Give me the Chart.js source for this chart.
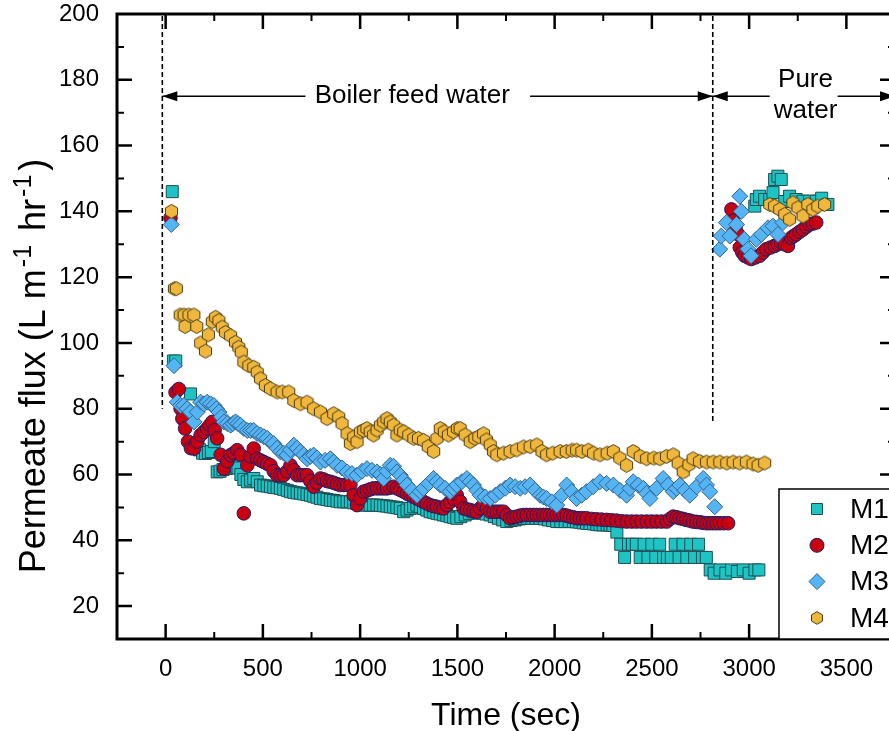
<!DOCTYPE html>
<html>
<head>
<meta charset="utf-8">
<title>Permeate flux</title>
<script src="https://cdn.jsdelivr.net/npm/chart.js@4.4.1/dist/chart.umd.min.js"></script>
<style>
  html, body { margin: 0; padding: 0; background: #fff; overflow: hidden; }
  #wrap { width: 910px; height: 731px; }
</style>
</head>
<body>
<div id="wrap"><canvas id="flux" width="910" height="731"></canvas></div>
<script>
// ---- data: time (sec) / permeate flux (L m-1 hr-1) per membrane ----
const seriesNames = ['M1', 'M2', 'M3', 'M4'];

const m1Time = [
  34, 40, 52, 128, 146, 160, 175, 190, 205, 220,
  235, 250, 265, 280, 295, 310, 325, 342, 358, 372,
  387, 402, 420, 437, 453, 471, 488, 505, 522, 539,
  556, 573, 590, 607, 625, 642, 659, 676, 693, 710,
  727, 744, 761, 778, 796, 813, 830, 847, 864, 881,
  898, 916, 933, 950, 967, 984, 1001, 1018, 1035, 1052,
  1069, 1087, 1104, 1121, 1138, 1155, 1172, 1189, 1206, 1224,
  1241, 1258, 1275, 1292, 1309, 1326, 1343, 1360, 1378, 1395,
  1412, 1429, 1446, 1463, 1480, 1497, 1518, 1540, 1561, 1583,
  1604, 1626, 1647, 1669, 1690, 1711, 1733, 1754, 1776, 1797,
  1818, 1840, 1861, 1883, 1904, 1925, 1947, 1968, 1990, 2011,
  2032, 2054, 2075, 2096, 2113, 2130, 2147, 2164, 2182, 2200,
  2217, 2233, 2250, 2270, 2285, 2300, 2320, 2340, 2360, 2380,
  2400, 2420, 2440, 2460, 2480, 2500, 2520, 2540, 2560, 2580,
  2600, 2620, 2640, 2660, 2680, 2700, 2720, 2740, 2760, 2780,
  2800, 2820, 2850, 2880, 2910, 2940, 2970, 3000, 3030, 3050,
  3029, 3037, 3054, 3080, 3106, 3123, 3131, 3148, 3165, 3183,
  3208, 3242, 3277, 3311, 3345, 3373, 3405
];
const m1Flux = [
  146, 94.5, 94.5, 84.5, 69.4, 68, 67.5, 66.5, 66.4, 66.7,
  67, 70, 60.8, 61, 61.5, 61.8, 62, 62.3, 62.6, 62,
  60, 58.5, 57.8, 58.3, 58.8, 57.8, 56.8, 56.6, 56.5, 56.3,
  56.1, 56, 55.8, 55.5, 55.2, 54.8, 54.6, 54.4, 54.3, 54.1,
  53.9, 53.7, 53.4, 53.1, 52.7, 52.6, 52.4, 52.2, 52.1, 51.9,
  51.7, 51.7, 51.7, 51.7, 51.4, 51.2, 51, 50.7, 50.7, 50.7,
  50.7, 50.7, 50.6, 50.5, 50.4, 50.2, 50.1, 49.9, 49.7, 48.7,
  49.2, 49.7, 50.2, 50.7, 50.2, 49.7, 49.2, 48.7, 48.5, 48.2,
  48, 47.7, 47.5, 47.2, 47, 46.7, 47.2, 47.7, 48.2, 48.7,
  48.5, 48.2, 48, 47.7, 47.2, 46.7, 46.2, 45.7, 46, 46.2,
  46.5, 46.7, 46.7, 46.7, 46.7, 46.7, 46.5, 46.2, 46, 45.7,
  45.7, 45.7, 45.7, 45.7, 45.6, 45.5, 45.3, 45.2, 45.1, 45,
  44.8, 44.7, 44.7, 44.7, 44.6, 44.5, 42.5, 38.8, 34.8, 38.8,
  38.8, 38.8, 34.8, 38.8, 34.8, 38.8, 34.8, 38.8, 34.8, 34.8,
  34.8, 38.8, 34.8, 38.8, 34.8, 38.8, 34.8, 38.8, 34.8, 34.8,
  31, 30, 31, 30, 31, 30.5, 31, 30, 31, 31,
  141.6, 143.6, 144.6, 143.6, 143.6, 145.7, 149.7, 150.7, 149.7, 143,
  144.6, 143.6, 143.1, 143.1, 143.1, 144, 142.1
];

const m2Time = [
  25, 51, 68, 77, 86, 100, 115, 130, 146, 163,
  180, 197, 214, 227, 240, 252, 265, 283, 300, 317,
  334, 351, 368, 385, 402, 420, 437, 453, 471, 488,
  505, 522, 539, 556, 573, 590, 607, 625, 642, 659,
  676, 693, 710, 727, 744, 761, 778, 796, 813, 830,
  847, 864, 881, 898, 916, 933, 950, 967, 984, 1001,
  1018, 1035, 1052, 1069, 1087, 1104, 1121, 1138, 1155, 1172,
  1189, 1206, 1224, 1241, 1258, 1275, 1292, 1309, 1326, 1343,
  1360, 1378, 1395, 1412, 1429, 1446, 1463, 1480, 1497, 1515,
  1532, 1549, 1566, 1583, 1600, 1617, 1634, 1652, 1669, 1686,
  1703, 1720, 1737, 1754, 1771, 1788, 1805, 1822, 1840, 1857,
  1874, 1891, 1908, 1925, 1942, 1959, 1976, 1994, 2011, 2028,
  2045, 2062, 2079, 2096, 2113, 2130, 2147, 2164, 2190, 2215,
  2241, 2267, 2292, 2318, 2344, 2370, 2396, 2421, 2447, 2473,
  2498, 2524, 2550, 2576, 2593, 2610, 2627, 2644, 2661, 2678,
  2695, 2712, 2730, 2747, 2764, 2781, 2798, 2815, 2833, 2850,
  2870, 2892,
  2909, 2918, 2930, 2944, 2952, 2965, 2977, 2994, 3011, 3032,
  3054, 3071, 3088, 3110, 3131, 3148, 3165, 3183, 3200, 3217,
  3230, 3242, 3260, 3277, 3294, 3311, 3328, 3345
];
const m2Flux = [
  138, 85, 86, 80, 77, 74, 70, 68, 67.9, 70,
  72, 73, 74, 75, 76, 73.5, 71, 66, 61.8, 64,
  65.9, 66.5, 67.4, 66, 48.2, 62.8, 65.5, 67.9, 64.8, 64.3,
  63.8, 63.3, 62.8, 61, 59.8, 59.8, 59.8, 61, 62.8, 61.3,
  59.8, 59.8, 59.8, 59.8, 58, 56.3, 57.5, 58.8, 58.5, 58,
  57.8, 57.5, 57.1, 56.8, 56.8, 56.8, 56.8, 53.7, 50.7, 52.7,
  54.8, 55.1, 55.5, 55.8, 55.8, 55.8, 55.8, 55.8, 56, 56.3,
  55.8, 55.3, 54.8, 54.2, 53.7, 53.2, 52.7, 52.2, 51.7, 51.2,
  50.7, 50.4, 50.2, 49.9, 49.7, 50.7, 51.7, 52.7, 53.7, 51.7,
  49.7, 49.4, 49.2, 48.9, 48.7, 49.7, 50.7, 49.7, 48.7, 48.7,
  48.7, 48.7, 48.7, 47.7, 46.7, 47, 47.2, 47.5, 47.7, 47.7,
  47.7, 47.7, 47.7, 47.7, 47.7, 47.7, 47.7, 47.7, 47.7, 47.7,
  47.7, 47.5, 47.2, 47, 46.7, 46.7, 46.7, 46.7, 46.5, 46.4,
  46.3, 46.2, 46.1, 46, 45.8, 45.7, 45.7, 45.7, 45.7, 45.7,
  45.7, 45.7, 45.7, 45.7, 46.5, 47.2, 47, 46.7, 46.5, 46.2,
  46, 45.7, 45.6, 45.5, 45.3, 45.2, 45.2, 45.2, 45.2, 45.2,
  45.2, 45.2,
  140.6, 137.1, 135, 133, 129, 127.5, 126.5, 126, 125.5, 126,
  126.5, 127.5, 128.5, 129, 129.5, 130, 130.5, 130, 129.5, 132,
  132.5, 133, 133.8, 134.5, 135.3, 136, 136.3, 136.6
];

const m3Time = [
  29, 43, 60, 77, 94, 111, 128, 146, 163, 180,
  197, 214, 231, 248, 261, 274, 287, 300, 317, 334,
  346, 359, 372, 385, 402, 420, 437, 453, 470, 488,
  505, 522, 539, 556, 573, 590, 607, 625, 642, 659,
  676, 693, 710, 727, 744, 761, 778, 796, 820, 847,
  864, 881, 907, 933, 958, 984, 1010, 1035, 1061, 1087,
  1104, 1121, 1138, 1155, 1172, 1189, 1206, 1224, 1241, 1266,
  1292, 1309, 1326, 1352, 1378, 1395, 1412, 1437, 1463, 1480,
  1497, 1523, 1549, 1566, 1583, 1600, 1617, 1643, 1669, 1695,
  1720, 1746, 1771, 1797, 1823, 1848, 1874, 1900, 1925, 1942,
  1959, 1985, 2011, 2036, 2062, 2088, 2113, 2139, 2164, 2198,
  2233, 2267, 2302, 2336, 2370, 2387, 2404, 2430, 2456, 2473,
  2490, 2524, 2558, 2584, 2610, 2627, 2644, 2670, 2695, 2730,
  2764, 2781, 2798, 2823,
  2849, 2857, 2883, 2901, 2935, 2952, 2960, 2975, 2994, 3010,
  3037, 3063, 3097, 3123, 3148, 3174
];
const m3Flux = [
  136, 93.1, 82, 81, 81, 80, 79, 76, 79, 82,
  81.5, 82, 81.5, 81, 80, 79, 77.5, 76, 75.5, 75,
  75.5, 76, 75.5, 75, 74, 73.4, 73.4, 73.4, 72.5, 72,
  71.5, 71, 70, 69.4, 68, 66.9, 66.5, 65.9, 67.5, 68.9,
  68, 66.9, 66, 64.8, 65.5, 65.9, 65, 63.8, 64.3, 64.8,
  63.8, 62.8, 62, 60.8, 60.3, 59.8, 61, 61.8, 61.3, 60.8,
  60, 58.8, 61, 62.8, 62.5, 60.8, 59.8, 58.3, 56.8, 55.2,
  53.7, 54.8, 55.8, 57.3, 58.8, 57.8, 56.8, 55.8, 54.8, 55.8,
  56.8, 57.8, 58.8, 57.8, 56.8, 55.2, 53.7, 53.2, 52.7, 53.7,
  54.8, 55.8, 56.8, 56.3, 55.8, 56.3, 56.8, 55.2, 53.7, 53.2,
  52.7, 51.7, 50.7, 53.7, 56.8, 54.8, 52.7, 53.7, 54.8, 56.3,
  57.8, 57.3, 56.8, 55.2, 53.7, 55.8, 57.8, 56.8, 55.8, 54.3,
  52.7, 55.8, 58.8, 56.8, 54.8, 55.8, 56.8, 55.2, 53.7, 56.3,
  58.8, 56.8, 54.8, 50.2,
  128.5, 132.5, 136.6, 132.5, 136, 144.6, 140, 131.5, 128.5, 126.5,
  131.5, 133, 135, 135.5, 133, 136.6
];

const m4Time = [
  30, 45, 55, 75, 95, 100, 120, 145, 160, 180,
  205, 220, 240, 257, 274, 291, 308, 334, 359, 376,
  389, 402, 428, 453, 471, 488, 513, 539, 573, 599,
  633, 659, 693, 727, 761, 796, 830, 864, 890, 907,
  933, 950, 967, 984, 1001, 1018, 1035, 1052, 1069, 1087,
  1104, 1121, 1138, 1155, 1172, 1189, 1206, 1224, 1250, 1276,
  1300, 1326, 1350, 1378, 1395, 1412, 1433, 1454, 1480, 1500,
  1514, 1540, 1566, 1590, 1610, 1634, 1650, 1669, 1686, 1703,
  1737, 1771, 1805, 1840, 1874, 1908, 1935, 1959, 1990, 2028,
  2060, 2090, 2113, 2140, 2173, 2200, 2233, 2270, 2302, 2335,
  2370, 2404, 2440, 2473, 2510, 2541, 2575, 2610, 2635, 2661,
  2690, 2712, 2745, 2781, 2815, 2849, 2885, 2918, 2950, 2986,
  3020, 3046, 3080,
  3106, 3131, 3157, 3183, 3208, 3225, 3251, 3277, 3302, 3328,
  3353, 3388
];
const m4Flux = [
  140, 116.5, 116.5, 108.5, 108.5, 105, 108.5, 108.5, 105, 100,
  97.5, 102.5, 106.5, 107.8, 106.8, 104.8, 103.2, 102.2, 100.2, 98.7,
  97.2, 94.2, 93.1, 92.6, 91.1, 89.1, 87.1, 86.1, 85.1, 85.1,
  85.1, 82.5, 81.5, 82, 80, 79, 77, 78.5, 77.5, 75.5,
  72.4, 69.4, 71.4, 70, 73, 73.4, 74, 73, 72, 73.5,
  75, 76, 77, 76, 75, 72, 73.5, 73, 72, 71,
  71, 70.4, 68.5, 67, 71, 74, 73, 72, 73, 74,
  74, 72, 70, 71, 71.5, 72.4, 70.5, 69, 67, 66,
  66.5, 67, 67.5, 68.4, 68.5, 69, 67, 66, 66.5, 67,
  67, 67.4, 67.4, 67, 67.4, 66.5, 66, 66.5, 67, 65,
  62.8, 67, 65.5, 64.8, 65, 64.8, 65.5, 66, 63.5, 60.8,
  63, 64.8, 64, 63.8, 63.8, 63.8, 63.5, 63.8, 63.5, 63.8,
  63.2, 62.8, 63.5,
  142.1, 141.6, 140.6, 139.1, 137.6, 142.6, 141.1, 138.6, 142.1, 140.6,
  141.6, 142.1
];

// axis ticks
const X_TICKS = [0, 500, 1000, 1500, 2000, 2500, 3000, 3500];
const Y_TICKS = [20, 40, 60, 80, 100, 120, 140, 160, 180, 200];

const FONT = "'Liberation Sans', Arial, sans-serif";
Chart.defaults.font.family = FONT;
Chart.defaults.color = '#000';

const toPoints = (t, v) => t.map((x, i) => ({ x, y: v[i] }));

// hexagon marker (pointy top) for M4
function hexSprite(fill, stroke, r) {
  const size = Math.ceil(r * 2 + 3);
  const c = document.createElement('canvas');
  c.width = size;
  c.height = size;
  const g = c.getContext('2d');
  g.beginPath();
  for (let i = 0; i < 6; i++) {
    const a = Math.PI / 2 + i * Math.PI / 3;
    const px = size / 2 + r * Math.cos(a);
    const py = size / 2 + r * Math.sin(a);
    if (i === 0) g.moveTo(px, py); else g.lineTo(px, py);
  }
  g.closePath();
  g.fillStyle = fill;
  g.fill();
  g.lineWidth = 1;
  g.strokeStyle = stroke;
  g.stroke();
  return c;
}

const STYLES = [
  { fill: '#1ec4c4', edge: '#1d4f55', shape: 'rect', r: 8.5 },
  { fill: '#c8000f', edge: '#1b1f6e', shape: 'circle', r: 6.8 },
  { fill: '#55b5f4', edge: '#36648f', shape: 'rectRot', r: 8 },
  { fill: '#efb73c', edge: '#4d3c12', shape: 'hex', r: 7 }
];
const hexMark = hexSprite(STYLES[3].fill, STYLES[3].edge, STYLES[3].r);
const hexLegend = hexSprite(STYLES[3].fill, STYLES[3].edge, 6.3);

const series = [[m1Time, m1Flux], [m2Time, m2Flux], [m3Time, m3Flux], [m4Time, m4Flux]];

const datasets = series.map(([t, v], i) => {
  const s = STYLES[i];
  return {
    label: seriesNames[i],
    data: toPoints(t, v),
    pointStyle: s.shape === 'hex' ? hexMark : s.shape,
    pointRadius: s.r,
    backgroundColor: s.fill,
    borderColor: s.edge,
    borderWidth: 1,
    showLine: false,
    order: 4 - i
  };
});

function arrowHead(ctx, tipX, yy, dir) {
  // dir = 1 points right, -1 points left
  ctx.beginPath();
  ctx.moveTo(tipX, yy);
  ctx.lineTo(tipX - dir * 15, yy - 5);
  ctx.lineTo(tipX - dir * 15, yy + 5);
  ctx.closePath();
  ctx.fill();
}

function legendMark(ctx, i, cx, cy) {
  const s = STYLES[i];
  ctx.fillStyle = s.fill;
  ctx.strokeStyle = s.edge;
  ctx.lineWidth = 1;
  ctx.beginPath();
  if (s.shape === 'rect') {
    ctx.rect(cx - 5.5, cy - 5.5, 11, 11);
  } else if (s.shape === 'circle') {
    ctx.arc(cx, cy, 7, 0, Math.PI * 2);
  } else if (s.shape === 'rectRot') {
    ctx.moveTo(cx, cy - 8);
    ctx.lineTo(cx + 8, cy);
    ctx.lineTo(cx, cy + 8);
    ctx.lineTo(cx - 8, cy);
    ctx.closePath();
  } else {
    ctx.drawImage(hexLegend, cx - hexLegend.width / 2, cy - hexLegend.height / 2);
    return;
  }
  ctx.fill();
  ctx.stroke();
}

const framePlugin = {
  id: 'frame',
  afterDraw(chart) {
    const { ctx, chartArea: a, scales: { x, y } } = chart;
    ctx.save();
    ctx.strokeStyle = '#000';
    ctx.fillStyle = '#000';

    // inward tick marks on all four sides
    const xMinor = X_TICKS.map(v => v + 250);
    const yMinor = Y_TICKS.map(v => v - 10).filter(v => v > 10);
    const tickSet = (vals, len, w) => {
      ctx.lineWidth = w;
      ctx.beginPath();
      vals.forEach(v => {
        const px = x.getPixelForValue(v);
        if (px <= a.left || px >= a.right) return;
        ctx.moveTo(px, a.bottom); ctx.lineTo(px, a.bottom - len);
        ctx.moveTo(px, a.top); ctx.lineTo(px, a.top + len);
      });
      ctx.stroke();
    };
    const tickSetY = (vals, len, w) => {
      ctx.lineWidth = w;
      ctx.beginPath();
      vals.forEach(v => {
        const py = y.getPixelForValue(v);
        if (py <= a.top + 1 || py >= a.bottom) return;
        ctx.moveTo(a.left, py); ctx.lineTo(a.left + len, py);
        ctx.moveTo(a.right, py); ctx.lineTo(a.right - len, py);
      });
      ctx.stroke();
    };
    tickSet(X_TICKS, 15, 2.5);
    tickSet(xMinor, 7, 2);
    tickSetY(Y_TICKS, 15, 2.5);
    tickSetY(yMinor, 7, 2);

    ctx.lineWidth = 3;
    ctx.strokeRect(a.left, a.top, a.right - a.left, a.bottom - a.top);

    // phase boundaries
    const xStart = x.getPixelForValue(-17);
    const xSwitch = x.getPixelForValue(2813);
    ctx.lineWidth = 1.6;
    ctx.setLineDash([5, 3]);
    ctx.beginPath();
    ctx.moveTo(xStart, a.top + 2); ctx.lineTo(xStart, y.getPixelForValue(80));
    ctx.moveTo(xSwitch, a.top + 2); ctx.lineTo(xSwitch, y.getPixelForValue(76));
    ctx.stroke();
    ctx.setLineDash([]);

    // phase arrows
    const ya = y.getPixelForValue(175);
    ctx.lineWidth = 1.5;
    ctx.beginPath();
    ctx.moveTo(xStart, ya); ctx.lineTo(x.getPixelForValue(719), ya);
    ctx.moveTo(x.getPixelForValue(1874), ya); ctx.lineTo(xSwitch, ya);
    ctx.moveTo(xSwitch, ya); ctx.lineTo(x.getPixelForValue(3106), ya);
    ctx.moveTo(x.getPixelForValue(3455), ya); ctx.lineTo(a.right, ya);
    ctx.stroke();
    arrowHead(ctx, xStart, ya, -1);
    arrowHead(ctx, xSwitch, ya, 1);
    arrowHead(ctx, xSwitch, ya, -1);
    arrowHead(ctx, a.right, ya, 1);

    ctx.font = '26px ' + FONT;
    ctx.textAlign = 'center';
    ctx.textBaseline = 'middle';
    ctx.fillText('Boiler feed water', x.getPixelForValue(1268), ya);
    ctx.fillText('Pure', x.getPixelForValue(3290), y.getPixelForValue(180));
    ctx.fillText('water', x.getPixelForValue(3290), y.getPixelForValue(170.6));

    // axis titles
    ctx.font = '32px ' + FONT;
    ctx.textBaseline = 'alphabetic';
    ctx.fillText('Time (sec)', (a.left + a.right) / 2, 725);

    const parts = [
      ['Permeate flux (L m', false], ['-1', true], [' hr', false], ['-1', true], [')', false]
    ];
    const mainFont = '36px ' + FONT, supFont = '25px ' + FONT;
    const gap = 6;
    let total = 0;
    parts.forEach(([txt, sup]) => {
      ctx.font = sup ? supFont : mainFont;
      total += ctx.measureText(txt).width + (sup ? gap : 0);
    });
    ctx.save();
    ctx.translate(45, 366);
    ctx.rotate(-Math.PI / 2);
    ctx.textAlign = 'left';
    let cx = -total / 2;
    parts.forEach(([txt, sup]) => {
      ctx.font = sup ? supFont : mainFont;
      ctx.fillText(txt, cx + (sup ? 2 : 0), sup ? -14 : 0);
      cx += ctx.measureText(txt).width + (sup ? gap : 0);
    });
    ctx.restore();

    // legend box, lower right
    const lx = a.right - 116, ly = a.bottom - 150;
    ctx.fillStyle = '#fff';
    ctx.fillRect(lx, ly, a.right - lx, a.bottom - ly);
    ctx.lineWidth = 1.5;
    ctx.strokeStyle = '#000';
    ctx.strokeRect(lx, ly, a.right - lx + 10, a.bottom - ly);
    ctx.font = '28px ' + FONT;
    ctx.textAlign = 'left';
    ctx.textBaseline = 'middle';
    seriesNames.forEach((name, i) => {
      const cy = ly + 20 + i * 36.3;
      legendMark(ctx, i, lx + 38, cy);
      ctx.fillStyle = '#000';
      ctx.fillText(name, lx + 71, cy + 1);
    });
    ctx.restore();
  }
};

new Chart(document.getElementById('flux'), {
  type: 'scatter',
  data: { datasets },
  options: {
    responsive: false,
    animation: false,
    layout: { padding: { top: 14, right: 15, left: 0, bottom: 0 } },
    plugins: { legend: { display: false }, tooltip: { enabled: false } },
    scales: {
      x: {
        type: 'linear',
        min: -250,
        max: 3750,
        afterBuildTicks: s => { s.ticks = X_TICKS.map(v => ({ value: v })); },
        afterFit: s => { s.height = 92; s.paddingLeft = 0; s.paddingRight = 0; },
        grid: { display: false, drawTicks: false },
        border: { display: false },
        ticks: {
          font: { size: 24 },
          padding: 16,
          maxRotation: 0,
          autoSkip: false,
          callback: v => String(v)
        }
      },
      y: {
        min: 10,
        max: 200,
        afterBuildTicks: s => { s.ticks = Y_TICKS.map(v => ({ value: v })); },
        afterFit: s => { s.width = 117; s.paddingTop = 0; s.paddingBottom = 0; },
        grid: { display: false, drawTicks: false },
        border: { display: false },
        ticks: {
          font: { size: 24 },
          padding: 18,
          autoSkip: false,
          callback: v => String(v)
        }
      }
    }
  },
  plugins: [framePlugin]
});
</script>
</body>
</html>
